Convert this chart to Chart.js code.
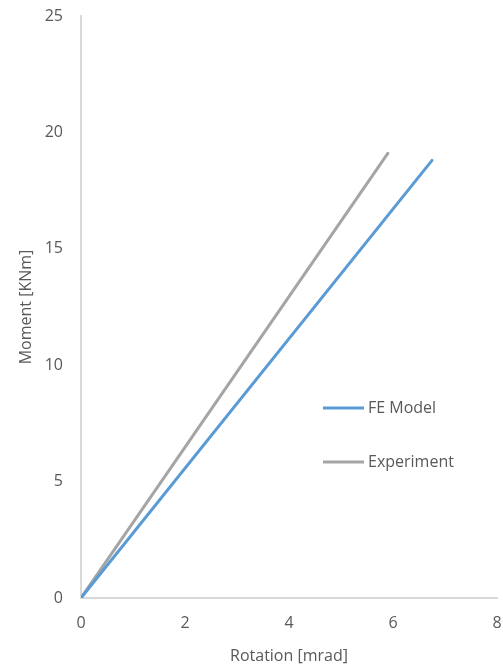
<!DOCTYPE html>
<html>
<head>
<meta charset="utf-8">
<script src="https://cdn.jsdelivr.net/npm/chart.js@4"></script>
<style>
  html, body { margin: 0; padding: 0; background: #fff; }
  #wrap { width: 503px; height: 666px; }
</style>
</head>
<body>
<div id="wrap"><canvas id="grafica"></canvas></div>
<script>
// data
const rotacionFE = [0, 6.75];
const momentoFE = [0, 18.8];
const rotacionExp = [0, 5.9];
const momentoExp = [0, 19.1];
const ticksX = [0, 2, 4, 6, 8];
const ticksY = [0, 5, 10, 15, 20, 25];

const puntos = (xs, ys) => xs.map((x, i) => ({ x: x, y: ys[i] }));

const textoGris = "#595959";
const ejeGris = "#d9d9d9";
const fuente = { family: "'Open Sans', sans-serif", size: 16 };

// legend drawn inside the plot area
const leyendaInterna = {
    id: "leyendaInterna",
    afterDraw(chart) {
        const ctx = chart.ctx;
        const a = chart.chartArea;
        const x0 = a.left + 242, x1 = a.left + 283;
        const filas = [a.top + 392, a.top + 446];
        ctx.save();
        ctx.font = "16px 'Open Sans', sans-serif";
        ctx.textBaseline = "middle";
        chart.data.datasets.forEach((ds, i) => {
            ctx.strokeStyle = ds.borderColor;
            ctx.lineWidth = 3;
            ctx.beginPath();
            ctx.moveTo(x0, filas[i]);
            ctx.lineTo(x1, filas[i]);
            ctx.stroke();
            ctx.fillStyle = textoGris;
            ctx.fillText(ds.label, x1 + 4, filas[i]);
        });
        ctx.restore();
    }
};

new Chart(document.getElementById("grafica"), {
    type: "scatter",
    data: {
        datasets: [
            { label: "FE Model", data: puntos(rotacionFE, momentoFE), borderColor: "#5b9bd5", borderWidth: 3, showLine: true, pointRadius: 0, borderCapStyle: "round" },
            { label: "Experiment", data: puntos(rotacionExp, momentoExp), borderColor: "#a5a5a5", borderWidth: 3, showLine: true, pointRadius: 0, borderCapStyle: "round" }
        ]
    },
    options: {
        responsive: true,
        maintainAspectRatio: false,
        animation: false,
        layout: { padding: { top: 16, right: 6, left: 0, bottom: 0 } },
        plugins: { legend: { display: false }, tooltip: { enabled: false } },
        scales: {
            x: {
                type: "linear", min: 0, max: 8,
                afterFit: s => { s.height = 68; s.paddingLeft = 0; s.paddingRight = 0; },
                afterBuildTicks: s => { s.ticks = ticksX.map(v => ({ value: v })); },
                grid: { display: false, drawTicks: false },
                border: { color: ejeGris, width: 2 },
                ticks: { color: textoGris, font: fuente, padding: 16 },
                title: { display: true, text: "Rotation [mrad]", color: textoGris, font: fuente, padding: { top: 6, bottom: 0 } }
            },
            y: {
                type: "linear", min: 0, max: 25,
                afterFit: s => { s.width = 81; s.paddingTop = 0; s.paddingBottom = 0; },
                afterBuildTicks: s => { s.ticks = ticksY.map(v => ({ value: v })); },
                grid: { display: false, drawTicks: false },
                border: { color: ejeGris, width: 2 },
                ticks: { color: textoGris, font: fuente, padding: 18 },
                title: { display: true, text: "Moment [KNm]", color: textoGris, font: fuente, padding: { top: 17, bottom: 0 } }
            }
        }
    },
    plugins: [leyendaInterna]
});
</script>
</body>
</html>
